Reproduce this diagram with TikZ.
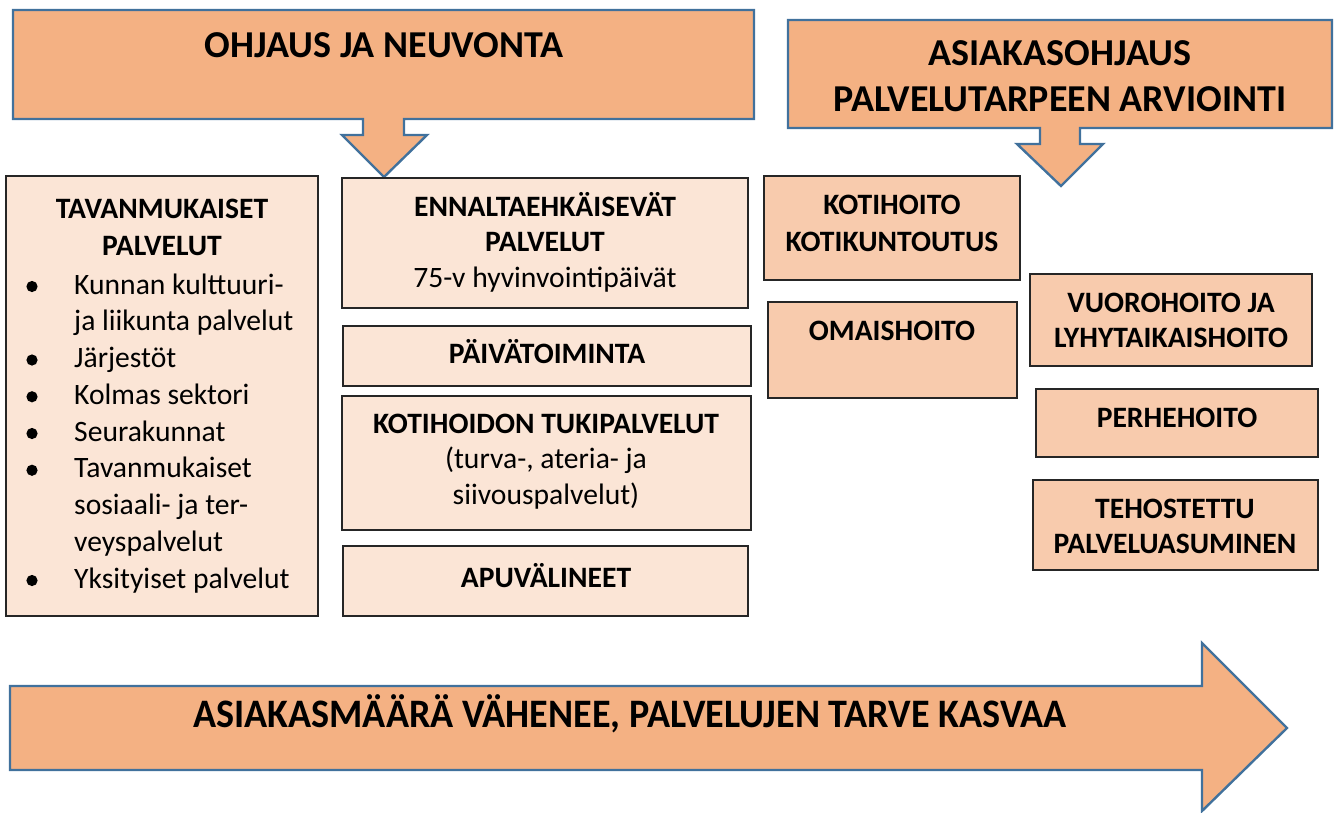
\documentclass[tikz,border=0pt]{standalone}
\usepackage{fontspec}
\setmainfont{Carlito}
\usetikzlibrary{fit}
\definecolor{calloutfill}{HTML}{F4B183}
\definecolor{calloutline}{HTML}{41719C}
\definecolor{paleboxfill}{HTML}{FBE5D6}
\definecolor{peachboxfill}{HTML}{F8CBAD}
\definecolor{boxline}{HTML}{262626}
\newcommand{\ml}[1]{\begin{tabular}[t]{@{}c@{}}#1\end{tabular}}
\newcommand{\mll}[1]{\begin{tabular}[t]{@{}l@{}}#1\end{tabular}}
\begin{document}
\begin{tikzpicture}[x=1pt,y=-1pt,
  callout/.style={fill=calloutfill, draw=calloutline, line width=2.4pt, line join=miter},
  palebox/.style={draw=boxline, fill=paleboxfill, line width=1.3pt, inner sep=0pt},
  peachbox/.style={draw=boxline, fill=peachboxfill, line width=1.3pt, inner sep=0pt},
  bigtxt/.style={anchor=base, inner sep=0pt, font=\fontsize{38}{46}\selectfont\bfseries},
  boldtxt/.style={anchor=base, inner sep=0pt, font=\fontsize{29.6}{35.5}\selectfont\bfseries},
  plaintxt/.style={anchor=base, inner sep=0pt, font=\fontsize{29.6}{35.5}\selectfont},
  listtxt/.style={anchor=base west, inner sep=0pt, font=\fontsize{29.6}{36.75}\selectfont},
  bullet/.style={fill=black}
]
\useasboundingbox (0,0) rectangle (1336,812);

% callout 1
\draw[callout] (13,10) -- (754,10) -- (754,119) -- (404,119) -- (404,135) -- (427,135)
  -- (384,177) -- (342,135) -- (363,135) -- (363,119) -- (13,119) -- cycle;
\node[bigtxt] (ohjaus) at (384,57) {OHJAUS JA NEUVONTA};

% callout 2
\draw[callout] (788,20) -- (1332,20) -- (1332,128) -- (1080,128) -- (1080,144) -- (1103,144)
  -- (1061,186) -- (1017,144) -- (1040,144) -- (1040,128) -- (788,128) -- cycle;
\node[bigtxt] (asiakas) at (1060,65) {\ml{ASIAKASOHJAUS\\PALVELUTARPEEN ARVIOINTI}};

% left box
\node[palebox, fit={(6,176) (318,616)}] (tavan) {};
\node[boldtxt, font=\fontsize{29.6}{37}\selectfont\bfseries] (tavant) at (162,218) {\ml{TAVANMUKAISET\\PALVELUT}};
\node[listtxt] (lista) at (74,294) {\mll{Kunnan kulttuuri-\\ja liikunta palvelut\\Järjestöt\\Kolmas sektori\\Seurakunnat\\Tavanmukaiset\\sosiaali- ja ter-\\veyspalvelut\\Yksityiset palvelut}};
\foreach \yy in {0,2,3,4,5,8}
  \fill[bullet] (32,{294+36.75*\yy-7.5}) circle (5.6);

% middle column
\node[palebox, fit={(342,178) (748,308)}] (ennalta) {};
\node[plaintxt] (ennaltat) at (545,216) {\ml{\textbf{ENNALTAEHKÄISEVÄT}\\\textbf{PALVELUT}\\75-v hyvinvointipäivät}};

\node[palebox, fit={(343,326) (751,386)}] (paiva) {};
\node[boldtxt] (paivat) at (547,363) {PÄIVÄTOIMINTA};

\node[palebox, fit={(342,396) (751,530)}] (koti) {};
\node[plaintxt] (kotit) at (546,433) {\ml{\textbf{KOTIHOIDON TUKIPALVELUT}\\(turva-, ateria- ja\\siivouspalvelut)}};

\node[palebox, fit={(343,546) (748,616)}] (apu) {};
\node[boldtxt] (aput) at (546,587) {APUVÄLINEET};

% right-middle column
\node[peachbox, fit={(764,176) (1020,280)}] (kotihoito) {};
\node[boldtxt, font=\fontsize{29.6}{37}\selectfont\bfseries] (kotihoitot) at (892,214) {\ml{KOTIHOITO\\KOTIKUNTOUTUS}};

\node[peachbox, fit={(768,302) (1017,398)}] (omais) {};
\node[boldtxt] (omaist) at (892,340) {OMAISHOITO};

% right column
\node[peachbox, fit={(1030,274) (1312,366)}] (vuoro) {};
\node[boldtxt] (vuorot) at (1171,312) {\ml{VUOROHOITO JA\\LYHYTAIKAISHOITO}};

\node[peachbox, fit={(1036,389) (1318,457)}] (perhe) {};
\node[boldtxt] (perhet) at (1177,427) {PERHEHOITO};

\node[peachbox, fit={(1033,480) (1318,570)}] (tehos) {};
\node[boldtxt] (tehost) at (1175,518) {\ml{TEHOSTETTU\\PALVELUASUMINEN}};

% bottom arrow
\draw[callout] (10,686) -- (1202,686) -- (1202,643) -- (1287,728) -- (1202,811) -- (1202,770)
  -- (10,770) -- cycle;
\node[anchor=base, inner sep=0pt] (asiakasmaara) at (630,727)
  {\scalebox{0.99}[1.05]{\fontsize{38.5}{44}\selectfont\bfseries ASIAKASMÄÄRÄ VÄHENEE, PALVELUJEN TARVE KASVAA}};
\end{tikzpicture}
\end{document}
